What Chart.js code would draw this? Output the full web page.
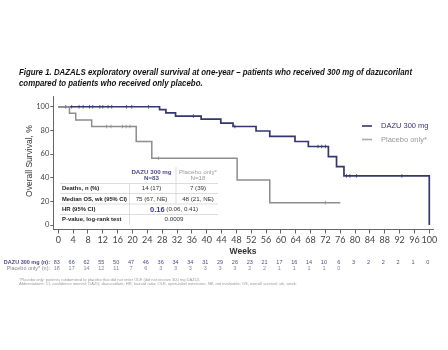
<!DOCTYPE html>
<html>
<head>
<meta charset="utf-8">
<script src="https://cdn.jsdelivr.net/npm/chart.js@4.4.1/dist/chart.umd.min.js"></script>
<style>
  body { margin: 0; background: #fff; }
  #wrap { position: relative; width: 448px; height: 350px; }
</style>
</head>
<body>
<div id="wrap"><canvas id="km-chart"></canvas></div>
<script>
// Kaplan-Meier steps (week, % surviving)
const dazuWeeks = [0, 27.3, 29, 31.6, 38.5, 43.8, 47.1, 53.3, 57, 63.8, 67.4, 72.8, 75, 77, 100];
const dazuSurv = [100, 97.6, 94.9, 92.1, 89.6, 86.2, 83.3, 79.5, 75, 70.6, 66.4, 57.9, 49.4, 41.5, 0];
const placeboWeeks = [0, 3, 4.7, 9, 21, 25.2, 48.2, 57, 76];
const placeboSurv = [100, 94.4, 88.9, 83.3, 70.6, 56.5, 38.1, 18.9, 18.9];

// censor ticks
const dazuCensorWeeks = [2, 3.6, 5.6, 6.7, 8.4, 9.3, 11.2, 12, 13.4, 14.4, 18.4, 19.8, 24.3, 36.4, 47.6, 70, 71, 72, 77.7, 78.6, 80.4, 92.6];
const dazuCensorSurv = [100, 100, 100, 100, 100, 100, 100, 100, 100, 100, 100, 100, 100, 92.1, 83.3, 66.4, 66.4, 66.4, 41.5, 41.5, 41.5, 41.5];
const placeboCensorWeeks = [13, 14.2, 17.3, 18.3, 19.3, 27, 72];
const placeboCensorSurv = [83.3, 83.3, 83.3, 83.3, 83.3, 56.5, 18.9];

// numbers at risk
const riskWeeks = [0, 4, 8, 12, 16, 20, 24, 28, 32, 36, 40, 44, 48, 52, 56, 60, 64, 68, 72, 76, 80, 84, 88, 92, 96, 100];
const dazuAtRisk = [83, 66, 62, 55, 50, 47, 46, 36, 34, 34, 31, 29, 26, 23, 21, 17, 16, 14, 10, 6, 3, 2, 2, 2, 1, 0];
const placeboAtRisk = [18, 17, 14, 12, 11, 7, 6, 3, 3, 3, 3, 3, 3, 2, 2, 1, 1, 1, 1, 0];

const yTicks = [0, 20, 40, 60, 80, 100];

const navy = "#34366f";
const grey = "#8d8d8d";

function pts(xs, ys) {
    return xs.map(function(x, i) { return { x: x, y: ys[i] }; });
}

const overlay = {
    id: "overlay",
    afterDraw: function(chart) {
        const c = chart.ctx;
        const xs = chart.scales.x;
        c.save();
        c.textBaseline = "middle";

        // title, both lines squeezed by the same factor
        const t1 = "Figure 1. DAZALS exploratory overall survival at one-year \u2013 patients who received 300 mg of dazucorilant";
        const t2 = "compared to patients who received only placebo.";
        c.fillStyle = "#111";
        c.textAlign = "left";
        c.font = "italic bold 9.3px 'Liberation Sans', Arial, sans-serif";
        const k = Math.min(1, 393 / c.measureText(t1).width);
        c.save();
        c.translate(19, 0);
        c.scale(k, 1);
        c.fillText(t1, 0, 72.5);
        c.fillText(t2, 0, 83.5);
        c.restore();

        // y axis title
        c.save();
        c.translate(30, 161);
        c.rotate(-Math.PI / 2);
        c.textAlign = "center";
        c.fillStyle = "#333";
        c.font = "8.5px 'Liberation Sans', Arial, sans-serif";
        c.fillText("Overall Survival, %", 0, 0);
        c.restore();

        // x axis title
        c.textAlign = "center";
        c.fillStyle = "#333";
        c.font = "bold 8.5px 'Liberation Sans', Arial, sans-serif";
        c.fillText("Weeks", 243, 252);

        // legend
        c.lineWidth = 1.6;
        c.strokeStyle = navy;
        c.beginPath(); c.moveTo(362, 126); c.lineTo(372, 126); c.stroke();
        c.strokeStyle = "#aaa";
        c.beginPath(); c.moveTo(362, 139.5); c.lineTo(372, 139.5); c.stroke();
        c.textAlign = "left";
        c.font = "7.5px 'Liberation Sans', Arial, sans-serif";
        c.fillStyle = navy;
        c.fillText("DAZU 300 mg", 381, 126);
        c.fillStyle = "#999";
        c.fillText("Placebo only*", 381, 139.5);

        // table
        c.strokeStyle = "#d4d4d4";
        c.lineWidth = 0.8;
        [183.5, 193.5, 204, 214.5].forEach(function(y) {
            c.beginPath(); c.moveTo(60, y); c.lineTo(218, y); c.stroke();
        });
        c.beginPath(); c.moveTo(129.5, 183.5); c.lineTo(129.5, 224.5); c.stroke();
        c.beginPath(); c.moveTo(176, 167); c.lineTo(176, 204); c.stroke();

        c.textAlign = "center";
        c.font = "bold 6.2px 'Liberation Sans', Arial, sans-serif";
        c.fillStyle = "#4a4c8a";
        c.fillText("DAZU 300 mg", 151.5, 172.5);
        c.fillText("N=83", 151.5, 178.5);
        c.font = "6.2px 'Liberation Sans', Arial, sans-serif";
        c.fillStyle = "#999";
        c.fillText("Placebo only*", 198, 172.5);
        c.fillText("N=18", 198, 178.5);

        c.textAlign = "left";
        c.font = "bold 5.9px 'Liberation Sans', Arial, sans-serif";
        c.fillStyle = "#222";
        c.fillText("Deaths, n (%)", 62, 188.5);
        c.fillText("Median OS, wk (95% CI)", 62, 199, 65);
        c.fillText("HR (95% CI)", 62, 209.5);
        c.fillText("P-value, log-rank test", 62, 219.5, 65);

        c.textAlign = "center";
        c.font = "6.2px 'Liberation Sans', Arial, sans-serif";
        c.fillStyle = "#333";
        c.fillText("14 (17)", 151.5, 188.5);
        c.fillText("7 (39)", 198, 188.5);
        c.fillText("75 (67, NE)", 151.5, 199);
        c.fillText("48 (21, NE)", 198, 199);
        c.fillText("0.0009", 174, 219.5);

        c.textAlign = "left";
        c.font = "bold 7.5px 'Liberation Sans', Arial, sans-serif";
        const hr = "0.16";
        const hrW = c.measureText(hr).width;
        c.font = "6.2px 'Liberation Sans', Arial, sans-serif";
        const ci = " (0.06, 0.41)";
        const ciW = c.measureText(ci).width;
        const hx = 174 - (hrW + ciW) / 2;
        c.font = "bold 7.5px 'Liberation Sans', Arial, sans-serif";
        c.fillStyle = "#3c3e86";
        c.fillText(hr, hx, 209.5);
        c.font = "6.2px 'Liberation Sans', Arial, sans-serif";
        c.fillStyle = "#333";
        c.fillText(ci, hx + hrW, 209.5);

        // numbers at risk
        c.textAlign = "right";
        c.font = "bold 5.5px 'Liberation Sans', Arial, sans-serif";
        c.fillStyle = "#4a4c8a";
        c.fillText("DAZU 300 mg (n):", 50, 262.5);
        c.font = "5.5px 'Liberation Sans', Arial, sans-serif";
        c.fillStyle = "#888";
        c.fillText("Placebo only* (n):", 50, 268);
        c.textAlign = "center";
        c.font = "5.5px 'Liberation Sans', Arial, sans-serif";
        riskWeeks.forEach(function(w, i) {
            const px = xs.getPixelForValue(w) - 1.5;
            c.fillStyle = "#4a4c8a";
            c.fillText(String(dazuAtRisk[i]), px, 262.5);
            if (i < placeboAtRisk.length) {
                c.fillStyle = "#888";
                c.fillText(String(placeboAtRisk[i]), px, 268);
            }
        });

        // footnotes
        c.textAlign = "left";
        c.fillStyle = "#999";
        c.font = "4.3px 'Liberation Sans', Arial, sans-serif";
        c.fillText("*Placebo only: patients randomized to placebo that did not enter OLE (did not receive 300 mg DAZU).", 19, 279.5, 181);
        c.fillText("Abbreviations: CI, confidence interval; DAZU, dazucorilant; HR, hazard ratio; OLE, open-label extension; NE, not evaluable; OS, overall survival; wk, week.", 19, 284, 278);

        c.restore();
    }
};

const ctx = document.getElementById("km-chart").getContext("2d");

const kmChart = new Chart(ctx, {
    type: "line",
    data: {
        datasets: [
            {
                label: "Placebo only*",
                data: pts(placeboWeeks, placeboSurv),
                borderColor: grey,
                borderWidth: 1.5,
                stepped: "before",
                pointRadius: 0
            },
            {
                label: "DAZU 300 mg",
                data: pts(dazuWeeks, dazuSurv),
                borderColor: navy,
                borderWidth: 1.7,
                stepped: "before",
                pointRadius: 0
            },
            {
                type: "scatter",
                data: pts(placeboCensorWeeks, placeboCensorSurv),
                pointStyle: "line",
                rotation: 90,
                pointRadius: 1.8,
                borderColor: grey,
                borderWidth: 0.8
            },
            {
                type: "scatter",
                data: pts(dazuCensorWeeks, dazuCensorSurv),
                pointStyle: "line",
                rotation: 90,
                pointRadius: 1.8,
                borderColor: navy,
                borderWidth: 0.8
            }
        ]
    },
    options: {
        responsive: true,
        maintainAspectRatio: false,
        animation: false,
        layout: { padding: { top: 96.7, right: 15, left: 0, bottom: 0 } },
        plugins: {
            legend: { display: false },
            title: { display: false },
            tooltip: { enabled: false }
        },
        scales: {
            x: {
                type: "linear",
                min: -1.35,
                max: 101,
                afterFit: function(s) { s.height = 120.5; },
                afterBuildTicks: function(s) {
                    s.ticks = riskWeeks.map(function(v) { return { value: v }; });
                },
                grid: { drawOnChartArea: false, drawTicks: true, tickLength: 4, color: "#666" },
                border: { color: "#666", width: 1 },
                ticks: {
                    color: "#444",
                    padding: 1,
                    maxRotation: 0,
                    autoSkip: false,
                    font: { family: "Lato, 'Liberation Sans', sans-serif", size: 9 }
                }
            },
            y: {
                min: -3.8,
                max: 108.5,
                afterFit: function(s) { s.width = 53.3; },
                afterBuildTicks: function(s) {
                    s.ticks = yTicks.map(function(v) { return { value: v }; });
                },
                grid: { drawOnChartArea: false, drawTicks: true, tickLength: 3, color: "#666" },
                border: { color: "#666", width: 1 },
                ticks: {
                    color: "#444",
                    padding: 1,
                    font: { family: "Lato, 'Liberation Sans', sans-serif", size: 7.5 }
                }
            }
        }
    },
    plugins: [overlay]
});
</script>
</body>
</html>
